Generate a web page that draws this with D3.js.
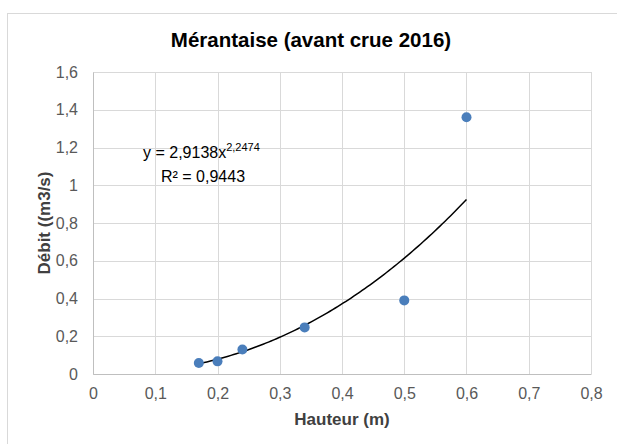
<!DOCTYPE html>
<html><head><meta charset="utf-8">
<script src="https://cdn.jsdelivr.net/npm/d3@7"></script>
<style>body{margin:0;background:#fff}svg{display:block}</style>
</head><body>
<script>
const hauteur = [0.17, 0.2, 0.24, 0.34, 0.5, 0.6];
const debit = [0.058, 0.067, 0.13, 0.247, 0.39, 1.36];
const xTicks = [0, 0.1, 0.2, 0.3, 0.4, 0.5, 0.6, 0.7, 0.8];
const yTicks = [0, 0.2, 0.4, 0.6, 0.8, 1, 1.2, 1.4, 1.6];
const coefA = 2.9138, coefB = 2.2474, r2 = 0.9443;
const title = "Mérantaise (avant crue 2016)";

const W = 617, H = 444;
const svg = d3.select("body").append("svg").attr("width", W).attr("height", H);
svg.append("rect").attr("x", 7.5).attr("y", 13.5).attr("width", W).attr("height", H)
  .attr("fill", "#fff").attr("stroke", "#d9d9d9");

const x = d3.scaleLinear().domain([0, 0.8]).range([93, 591]);
const y = d3.scaleLinear().domain([0, 1.6]).range([374, 72]);
const fmt = d => String(+d.toFixed(1)).replace(".", ",");
const font = "Liberation Sans, Arial, sans-serif";

const g = svg.append("g");
g.selectAll(".vg").data(xTicks).join("line")
  .attr("x1", d => Math.round(x(d)) + 0.5).attr("x2", d => Math.round(x(d)) + 0.5)
  .attr("y1", y(0)).attr("y2", y(1.6)).attr("stroke", "#d9d9d9").attr("stroke-width", 1);
g.selectAll(".hg").data(yTicks).join("line")
  .attr("y1", d => Math.round(y(d)) + 0.5).attr("y2", d => Math.round(y(d)) + 0.5)
  .attr("x1", x(0)).attr("x2", x(0.8)).attr("stroke", "#d9d9d9").attr("stroke-width", 1);

const xAxis = svg.append("g").attr("transform", `translate(0,${y(0)})`)
  .call(d3.axisBottom(x).tickValues(xTicks).tickFormat(fmt).tickSize(0).tickPadding(13.5));
const yAxis = svg.append("g").attr("transform", `translate(${x(0)},0)`)
  .call(d3.axisLeft(y).tickValues(yTicks).tickFormat(fmt).tickSize(0).tickPadding(15));
[xAxis, yAxis].forEach(a => {
  a.select(".domain").attr("stroke", "#bfbfbf");
  a.selectAll("text").attr("font-family", font).attr("font-size", 16).attr("fill", "#595959");
});

// trendline
const trend = d3.range(0, 101).map(i => {
  const xv = d3.min(hauteur) + (d3.max(hauteur) - d3.min(hauteur)) * i / 100;
  return [xv, coefA * Math.pow(xv, coefB)];
});
svg.append("path").datum(trend)
  .attr("d", d3.line().x(d => x(d[0])).y(d => y(d[1])))
  .attr("fill", "none").attr("stroke", "#000").attr("stroke-width", 1.5);

svg.selectAll(".pt").data(hauteur).join("circle")
  .attr("cx", d => x(d)).attr("cy", (d, i) => y(debit[i])).attr("r", 5)
  .attr("fill", "#4a7ebb");

svg.append("text").attr("x", 311).attr("y", 47).attr("text-anchor", "middle")
  .attr("font-family", font).attr("font-size", 20.5).attr("font-weight", "bold").attr("fill", "#000")
  .text(title);

svg.append("text").attr("x", 342).attr("y", 425).attr("text-anchor", "middle")
  .attr("font-family", font).attr("font-size", 17).attr("font-weight", "bold").attr("fill", "#404040")
  .text("Hauteur (m)");

svg.append("text").attr("transform", "translate(50,223) rotate(-90)").attr("text-anchor", "middle")
  .attr("font-family", font).attr("font-size", 17).attr("font-weight", "bold").attr("fill", "#404040")
  .text("Débit ((m3/s)");

const eq = svg.append("text").attr("x", 143).attr("y", 158)
  .attr("font-family", font).attr("font-size", 16).attr("fill", "#000");
eq.append("tspan").text("y = " + String(coefA).replace(".", ",") + "x");
eq.append("tspan").attr("dy", -7).attr("font-size", 11).text(String(coefB).replace(".", ","));
svg.append("text").attr("x", 161).attr("y", 182)
  .attr("font-family", font).attr("font-size", 16).attr("fill", "#000")
  .text("R² = " + String(r2).replace(".", ","));
</script>
</body></html>
